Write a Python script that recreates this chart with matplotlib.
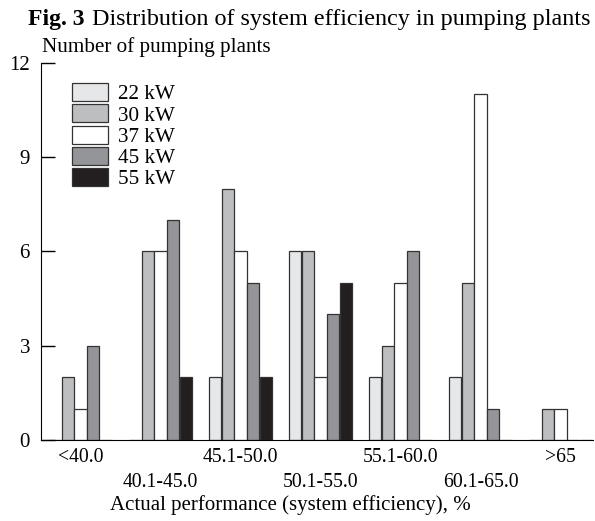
import numpy as np
from matplotlib import pyplot as plt

categories = ['<40.0', '40.1-45.0', '45.1-50.0', '50.1-55.0', '55.1-60.0', '60.1-65.0', '>65']
series = ['22 kW', '30 kW', '37 kW', '45 kW', '55 kW']
kw22 = [0, 0, 2, 6, 2, 2, 0]
kw30 = [2, 6, 8, 6, 3, 5, 1]
kw37 = [1, 6, 6, 2, 5, 11, 1]
kw45 = [3, 7, 5, 4, 6, 1, 0]
kw55 = [0, 2, 2, 5, 0, 0, 0]
values = [kw22, kw30, kw37, kw45, kw55]
colors = ['#e6e7e8', '#bcbec0', '#ffffff', '#939598', '#231f20']

plt.rcParams['font.family'] = ['Liberation Serif', 'DejaVu Serif']

W, H = 595, 521
fig = plt.figure(figsize=(W / 100, H / 100), dpi=100)
ax = fig.add_axes([0.069, 0.1555, 0.928, 0.7236])

x = np.arange(len(categories))
pitch = 0.159
for i, (name, vals) in enumerate(zip(series, values)):
    ax.bar(x + (i - 2) * pitch, vals, width=0.152, color=colors[i],
           edgecolor='#333333', linewidth=0.9, label=name)

ax.set_xlim(-0.494, 6.41)
ax.set_ylim(0, 12)
ax.set_yticks([0, 3, 6, 9, 12])
ax.tick_params(axis='y', direction='in', length=10, width=1, labelsize=15, pad=8)
ax.set_xticks(x)
ax.set_xticklabels(categories, fontsize=14.2)
ax.tick_params(axis='x', length=0, pad=6)
for i, lab in enumerate(ax.get_xticklabels()):
    if i % 2 == 1:
        lab.set_y(-0.066)
ax.spines['top'].set_visible(False)
ax.spines['right'].set_visible(False)

# axis titles and figure caption
fig.text(290 / W, 1 - 505 / H, 'Actual performance (system efficiency), %', fontsize=15,
         ha='center', va='center')
fig.text(42 / W, 1 - 47 / H, 'Number of pumping plants', fontsize=15.2, ha='left', va='center')
fig.text(28 / W, 1 - 20 / H, 'Fig. 3', fontsize=17, fontweight='bold', ha='left', va='center')
fig.text(92 / W, 1 - 20 / H, 'Distribution of system efficiency in pumping plants',
         fontsize=17.4, ha='left', va='center')

leg = ax.legend(loc='upper left', bbox_to_anchor=((72 - 41) / 552, 1 - (83 - 63) / 377),
                frameon=False, fontsize=15.2, handlelength=1.68, handleheight=0.94,
                labelspacing=0.0, handletextpad=0.48, borderpad=0.0, borderaxespad=0.0)

fig.savefig('out.png', dpi=100)
